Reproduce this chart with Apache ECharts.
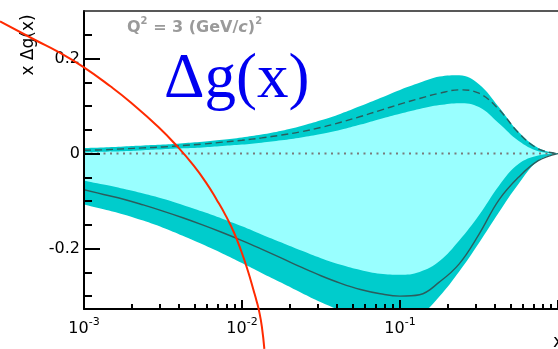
<!DOCTYPE html>
<html>
<head>
<meta charset="utf-8">
<script src="https://cdn.jsdelivr.net/npm/echarts@6/dist/echarts.min.js"></script>
<style>
html,body{margin:0;padding:0;background:#fff;}
#chart{width:558px;height:349px;}
</style>
</head>
<body>
<div id="chart"></div>
<script>
// ---- data ----
const xs        = [0.001, 0.00133, 0.00178, 0.00237, 0.00316, 0.00422, 0.00562, 0.0075, 0.01, 0.0133, 0.0178, 0.0237, 0.0316, 0.0422, 0.0562, 0.075, 0.1, 0.133, 0.178, 0.237, 0.316, 0.422, 0.562, 0.75, 1.0];
const upOuter   = [0.012, 0.013, 0.015, 0.017, 0.019, 0.022, 0.025, 0.029, 0.034, 0.040, 0.048, 0.058, 0.070, 0.084, 0.100, 0.117, 0.134, 0.149, 0.162, 0.165, 0.146, 0.098, 0.046, 0.012, 0];
const upCentral = [0.007, 0.008, 0.010, 0.012, 0.014, 0.017, 0.020, 0.024, 0.028, 0.033, 0.039, 0.046, 0.055, 0.066, 0.078, 0.091, 0.104, 0.116, 0.127, 0.134, 0.127, 0.093, 0.044, 0.010, 0];
const upInner   = [0.003, 0.004, 0.005, 0.007, 0.009, 0.011, 0.013, 0.016, 0.019, 0.023, 0.028, 0.034, 0.041, 0.050, 0.061, 0.073, 0.084, 0.094, 0.102, 0.106, 0.098, 0.064, 0.027, 0.005, 0];
const lowInner  = [-0.057, -0.065, -0.074, -0.084, -0.095, -0.108, -0.122, -0.137, -0.153, -0.170, -0.187, -0.204, -0.220, -0.234, -0.245, -0.253, -0.255, -0.249, -0.226, -0.183, -0.130, -0.068, -0.022, -0.004, 0];
const lowCentral= [-0.076, -0.086, -0.096, -0.108, -0.121, -0.135, -0.150, -0.166, -0.183, -0.201, -0.220, -0.239, -0.257, -0.273, -0.286, -0.295, -0.300, -0.297, -0.270, -0.232, -0.170, -0.098, -0.050, -0.015, 0];
const lowOuter  = [-0.107, -0.117, -0.128, -0.141, -0.156, -0.173, -0.191, -0.210, -0.230, -0.251, -0.272, -0.293, -0.313, -0.330, -0.342, -0.348, -0.349, -0.340, -0.300, -0.248, -0.188, -0.124, -0.064, -0.015, 0];

const redX = [0.0003, 0.0005, 0.0007, 0.001, 0.0015, 0.002, 0.003, 0.004, 0.005, 0.006, 0.007, 0.008, 0.009, 0.01, 0.011, 0.012, 0.0125, 0.013, 0.0135, 0.014];
const redY = [0.278, 0.239, 0.214, 0.183, 0.141, 0.108, 0.056, 0.013, -0.025, -0.061, -0.097, -0.131, -0.166, -0.205, -0.246, -0.289, -0.310, -0.333, -0.364, -0.411];

const zeroX = [0.001, 1.0];
const zeroY = [0, 0];

const xMajorTicks = [0.001, 0.01, 0.1, 1];
const xLabelTicks = [0.001, 0.01, 0.1];
const xMinorTicks = [0.002,0.003,0.004,0.005,0.006,0.007,0.008,0.009,
                     0.02,0.03,0.04,0.05,0.06,0.07,0.08,0.09,
                     0.2,0.3,0.4,0.5,0.6,0.7,0.8,0.9];
const yMajorTicks = [-0.2, 0, 0.2];
const yMinorTicks = [-0.3, -0.25, -0.15, -0.1, -0.05, 0.05, 0.1, 0.15, 0.25];
const yMin = -0.327, yMax = 0.3;
const xMin = 0.001, xMax = 1;
const xMinWide = 0.0003;   // extended axis so the red curve can run left of the frame

// ---- layout ----
const gridLeft = 84, gridTop = 11, gridW = 483, gridH = 298;
const decadePx = gridW / Math.log10(xMax / xMin);
const wideLeft = gridLeft - decadePx * Math.log10(xMin / xMinWide);

// ---- build ----
const pairs = (a, b) => a.map((v, i) => [v, b[i]]);

const dark = '#00cccc';
const light = '#99ffff';
const curveColor = '#2b5d5d';
const font = 'DejaVu Sans';
const SM = 0.4;

const areaSeries = (name, vals, color) => ({
  type: 'line', name, data: pairs(xs, vals), smooth: SM, showSymbol: false, symbol: 'none',
  lineStyle: { width: 0, opacity: 0 }, areaStyle: { color, opacity: 1, origin: 'start' },
  silent: true, z: 1
});

const chart = echarts.init(document.getElementById('chart'), null, { renderer: 'canvas' });
const tickStyle = { color: '#000', width: 2 };
const gray = '#9a9a9a';

chart.setOption({
  animation: false,
  backgroundColor: '#fff',
  grid: [
    { left: gridLeft, top: gridTop, width: gridW, height: gridH },
    { left: wideLeft, top: gridTop, width: gridW + (gridLeft - wideLeft), height: gridH }
  ],
  xAxis: [
    {
      type: 'log', logBase: 10, min: xMin, max: xMax, position: 'bottom', z: 10,
      axisLine: { onZero: false, lineStyle: { color: '#000', width: 2 } },
      axisTick: { inside: true, length: 9, lineStyle: tickStyle, customValues: xMajorTicks },
      minorTick: { show: false },
      splitLine: { show: false },
      axisLabel: {
        customValues: xLabelTicks, margin: 8,
        formatter: v => '{b|10}{s|' + Math.round(Math.log10(v)) + '}',
        rich: {
          b: { fontFamily: font, fontSize: 16, color: '#000', lineHeight: 20, verticalAlign: 'bottom' },
          s: { fontFamily: font, fontSize: 11, color: '#000', lineHeight: 20, verticalAlign: 'top' }
        }
      }
    },
    {
      type: 'log', logBase: 10, min: xMin, max: xMax, position: 'bottom', offset: 0, z: 10,
      axisLine: { show: false, onZero: false },
      axisTick: { inside: true, length: 5, lineStyle: tickStyle, customValues: xMinorTicks },
      splitLine: { show: false },
      axisLabel: { show: false }
    },
    {
      type: 'log', logBase: 10, min: xMin, max: xMax, position: 'top', z: 10,
      axisLine: { show: true, onZero: false, lineStyle: { color: '#222', width: 1.5 } },
      axisTick: { show: false }, splitLine: { show: false }, axisLabel: { show: false }
    },
    {
      gridIndex: 1, type: 'log', logBase: 10, min: xMinWide, max: xMax, show: false
    }
  ],
  yAxis: [
    {
      type: 'value', min: yMin, max: yMax, position: 'left', z: 10,
      axisLine: { show: true, onZero: false, lineStyle: { color: '#000', width: 2 } },
      axisTick: { show: true, inside: true, length: 16, lineStyle: tickStyle, customValues: yMajorTicks },
      splitLine: { show: false },
      axisLabel: {
        customValues: yMajorTicks, margin: 4,
        fontFamily: font, fontSize: 16, color: '#000',
        formatter: v => (Math.abs(v) < 1e-9 ? '0' : String(Math.round(v * 10) / 10))
      }
    },
    {
      type: 'value', min: yMin, max: yMax, position: 'left', offset: 0, z: 10,
      axisLine: { show: false, onZero: false },
      axisTick: { show: true, inside: true, length: 8, lineStyle: tickStyle, customValues: yMinorTicks },
      splitLine: { show: false },
      axisLabel: { show: false }
    },
    {
      gridIndex: 1, type: 'value', min: yMin, max: yMax, show: false
    }
  ],
  series: [
    areaSeries('outerTop', upOuter, dark),
    areaSeries('innerTop', upInner, light),
    areaSeries('innerBottom', lowInner, dark),
    areaSeries('outerBottom', lowOuter, '#ffffff'),
    {
      type: 'line', name: 'zero', data: pairs(zeroX, zeroY), showSymbol: false, symbol: 'none', silent: true, z: 2,
      lineStyle: { color: '#7a7a7a', width: 2, type: [2, 4.5] }
    },
    {
      type: 'line', name: 'lower', data: pairs(xs, lowCentral), smooth: SM, showSymbol: false, symbol: 'none', z: 3,
      lineStyle: { color: curveColor, width: 1.4 }
    },
    {
      type: 'line', name: 'upper', data: pairs(xs, upCentral), smooth: SM, showSymbol: false, symbol: 'none', z: 3,
      lineStyle: { color: curveColor, width: 1.4, type: [7, 4] }
    },
    {
      type: 'line', name: 'red', xAxisIndex: 3, yAxisIndex: 2, data: pairs(redX, redY), smooth: 0.5,
      showSymbol: false, symbol: 'none', z: 11, clip: false, lineStyle: { color: '#ff2a00', width: 2 }
    }
  ],
  graphic: [
    {
      type: 'text', x: 29, y: 45, rotation: Math.PI / 2, z: 10,
      style: { text: 'x \u0394g(x)', fontFamily: font, fontSize: 17, fill: '#000', textAlign: 'center', textVerticalAlign: 'middle' }
    },
    {
      type: 'text', x: 127, y: 26, z: 10,
      style: {
        text: '{n|Q}{s|2}{n| = 3 (GeV/}{i|c}{n|)}{s|2}',
        textAlign: 'left', textVerticalAlign: 'middle',
        rich: {
          n: { fontFamily: font, fontSize: 16, fontWeight: 'bold', fill: gray, lineHeight: 19, verticalAlign: 'bottom' },
          i: { fontFamily: font, fontSize: 16, fontWeight: 'bold', fontStyle: 'italic', fill: gray, lineHeight: 19, verticalAlign: 'bottom' },
          s: { fontFamily: font, fontSize: 10, fontWeight: 'bold', fill: gray, lineHeight: 19, verticalAlign: 'top' }
        }
      }
    },
    {
      type: 'text', x: 164, y: 80, z: 10,
      style: { text: '\u0394g(x)', fontFamily: 'Liberation Serif', fontSize: 63, fill: '#0000f0', textAlign: 'left', textVerticalAlign: 'middle' }
    },
    {
      type: 'text', x: 553, y: 342, z: 10,
      style: { text: 'x', fontFamily: font, fontSize: 18, fill: '#000', textAlign: 'left', textVerticalAlign: 'middle' }
    }
  ]
});
</script>
</body>
</html>
